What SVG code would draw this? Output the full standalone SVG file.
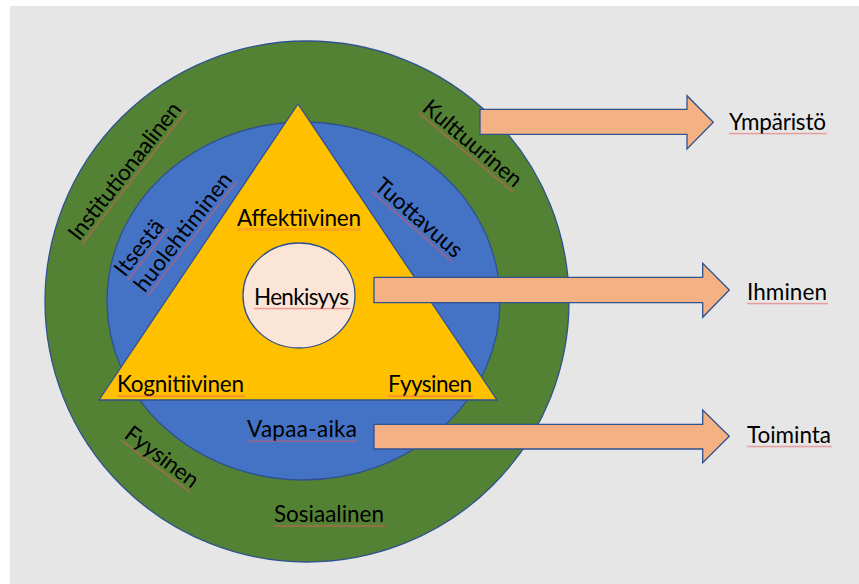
<svg xmlns="http://www.w3.org/2000/svg" width="859" height="584" viewBox="0 0 859 584">
<defs>
<style>
.sh{stroke:#2F528F;stroke-width:1.3}
.t{font-family:Lato,"Liberation Sans",Arial,sans-serif;font-size:22.5px;fill:#000}
.sq{fill:url(#sq)}
</style>
<pattern id="sq" width="2" height="2.5" patternUnits="userSpaceOnUse">
<path d="M0,2 L1,0.5 L2,2" fill="none" stroke="#E65A5C" stroke-width="0.6"/>
</pattern>
</defs>
<rect x="0" y="0" width="859" height="584" fill="#FFFFFF"/>
<rect x="10" y="6" width="849" height="578" fill="#E7E6E6"/>

<g id="outer-ring">
<ellipse class="sh" cx="307" cy="301.5" rx="262" ry="260.5" fill="#548235"/>
</g>
<g id="inner-ring">
<ellipse class="sh" cx="303.5" cy="301" rx="196.5" ry="179" fill="#4472C4"/>
</g>
<g id="triangle">
<polygon class="sh" points="298,104 99,400 497,400" fill="#FFC000"/>
</g>
<g id="center">
<ellipse class="sh" cx="299" cy="295.5" rx="56" ry="52.5" fill="#FBE5D6"/>
<text class="t" x="254" y="305" textLength="95">Henkisyys</text>
<rect class="sq" x="254" y="307.5" width="96" height="2.5"/>
</g>

<g id="connectors">
<polygon class="sh" points="480,109.3 687,109.3 687,95.7 713.3,122.3 687,149 687,134.3 480,134.3" fill="#F4B183"/>
<polygon class="sh" points="374,277.3 702.7,277.3 702.7,263.3 729.3,290 702.7,317.3 702.7,302.7 374,302.7" fill="#F4B183"/>
<polygon class="sh" points="374,424.3 702.7,424.3 702.7,410 729.3,436.3 702.7,462.7 702.7,449 374,449" fill="#F4B183"/>
</g>

<g id="label-institutionaalinen" transform="translate(79,242) rotate(-52)">
<text class="t" x="0" y="0" textLength="168">Institutionaalinen</text>
<rect class="sq" x="0" y="2.5" width="170" height="2.5"/>
</g>
<g id="label-itsesta" transform="translate(125,278) rotate(-52)">
<text class="t" x="0" y="0" textLength="65">Itsestä</text>
<rect class="sq" x="0" y="2.5" width="66" height="2.5"/>
<text class="t" x="0" y="25" textLength="144">huolehtiminen</text>
<rect class="sq" x="0" y="27.5" width="145" height="2.5"/>
</g>
<g id="label-kulttuurinen" transform="translate(421,110) rotate(40)">
<text class="t" x="0" y="0" textLength="122">Kulttuurinen</text>
<rect class="sq" x="0" y="2.5" width="124" height="2.5"/>
</g>
<g id="label-tuottavuus" transform="translate(373,188) rotate(41)">
<text class="t" x="0" y="0" textLength="108">Tuottavuus</text>
<rect class="sq" x="0" y="2.5" width="109" height="2.5"/>
</g>
<g id="label-fyysinen-outer" transform="translate(123,437) rotate(37)">
<text class="t" x="0" y="0" textLength="86">Fyysinen</text>
<rect class="sq" x="0" y="2.5" width="87" height="2.5"/>
</g>
<g id="label-affektiivinen">
<text class="t" x="237" y="226" textLength="124">Affektiivinen</text>
<rect class="sq" x="237" y="228.5" width="124" height="2.5"/>
</g>
<g id="label-kognitiivinen">
<text class="t" x="117" y="392" textLength="127">Kognitiivinen</text>
<rect class="sq" x="117" y="394.5" width="128" height="2.5"/>
</g>
<g id="label-fyysinen-inner">
<text class="t" x="388" y="392" textLength="84">Fyysinen</text>
<rect class="sq" x="388" y="394.5" width="85" height="2.5"/>
</g>
<g id="label-vapaa-aika">
<text class="t" x="247" y="437" textLength="110">Vapaa-aika</text>
<rect class="sq" x="247" y="439.5" width="111" height="2.5"/>
</g>
<g id="label-sosiaalinen">
<text class="t" x="274" y="522" textLength="110">Sosiaalinen</text>
<rect class="sq" x="274" y="524.5" width="111" height="2.5"/>
</g>
<g id="label-ymparisto">
<text class="t" x="729" y="130" textLength="97">Ympäristö</text>
<rect class="sq" x="729" y="132.5" width="98" height="2.5"/>
</g>
<g id="label-ihminen">
<text class="t" x="747" y="300" textLength="80">Ihminen</text>
<rect class="sq" x="747" y="302.5" width="81" height="2.5"/>
</g>
<g id="label-toiminta">
<text class="t" x="747" y="443" textLength="84">Toiminta</text>
<rect class="sq" x="747" y="445.5" width="85" height="2.5"/>
</g>
</svg>
